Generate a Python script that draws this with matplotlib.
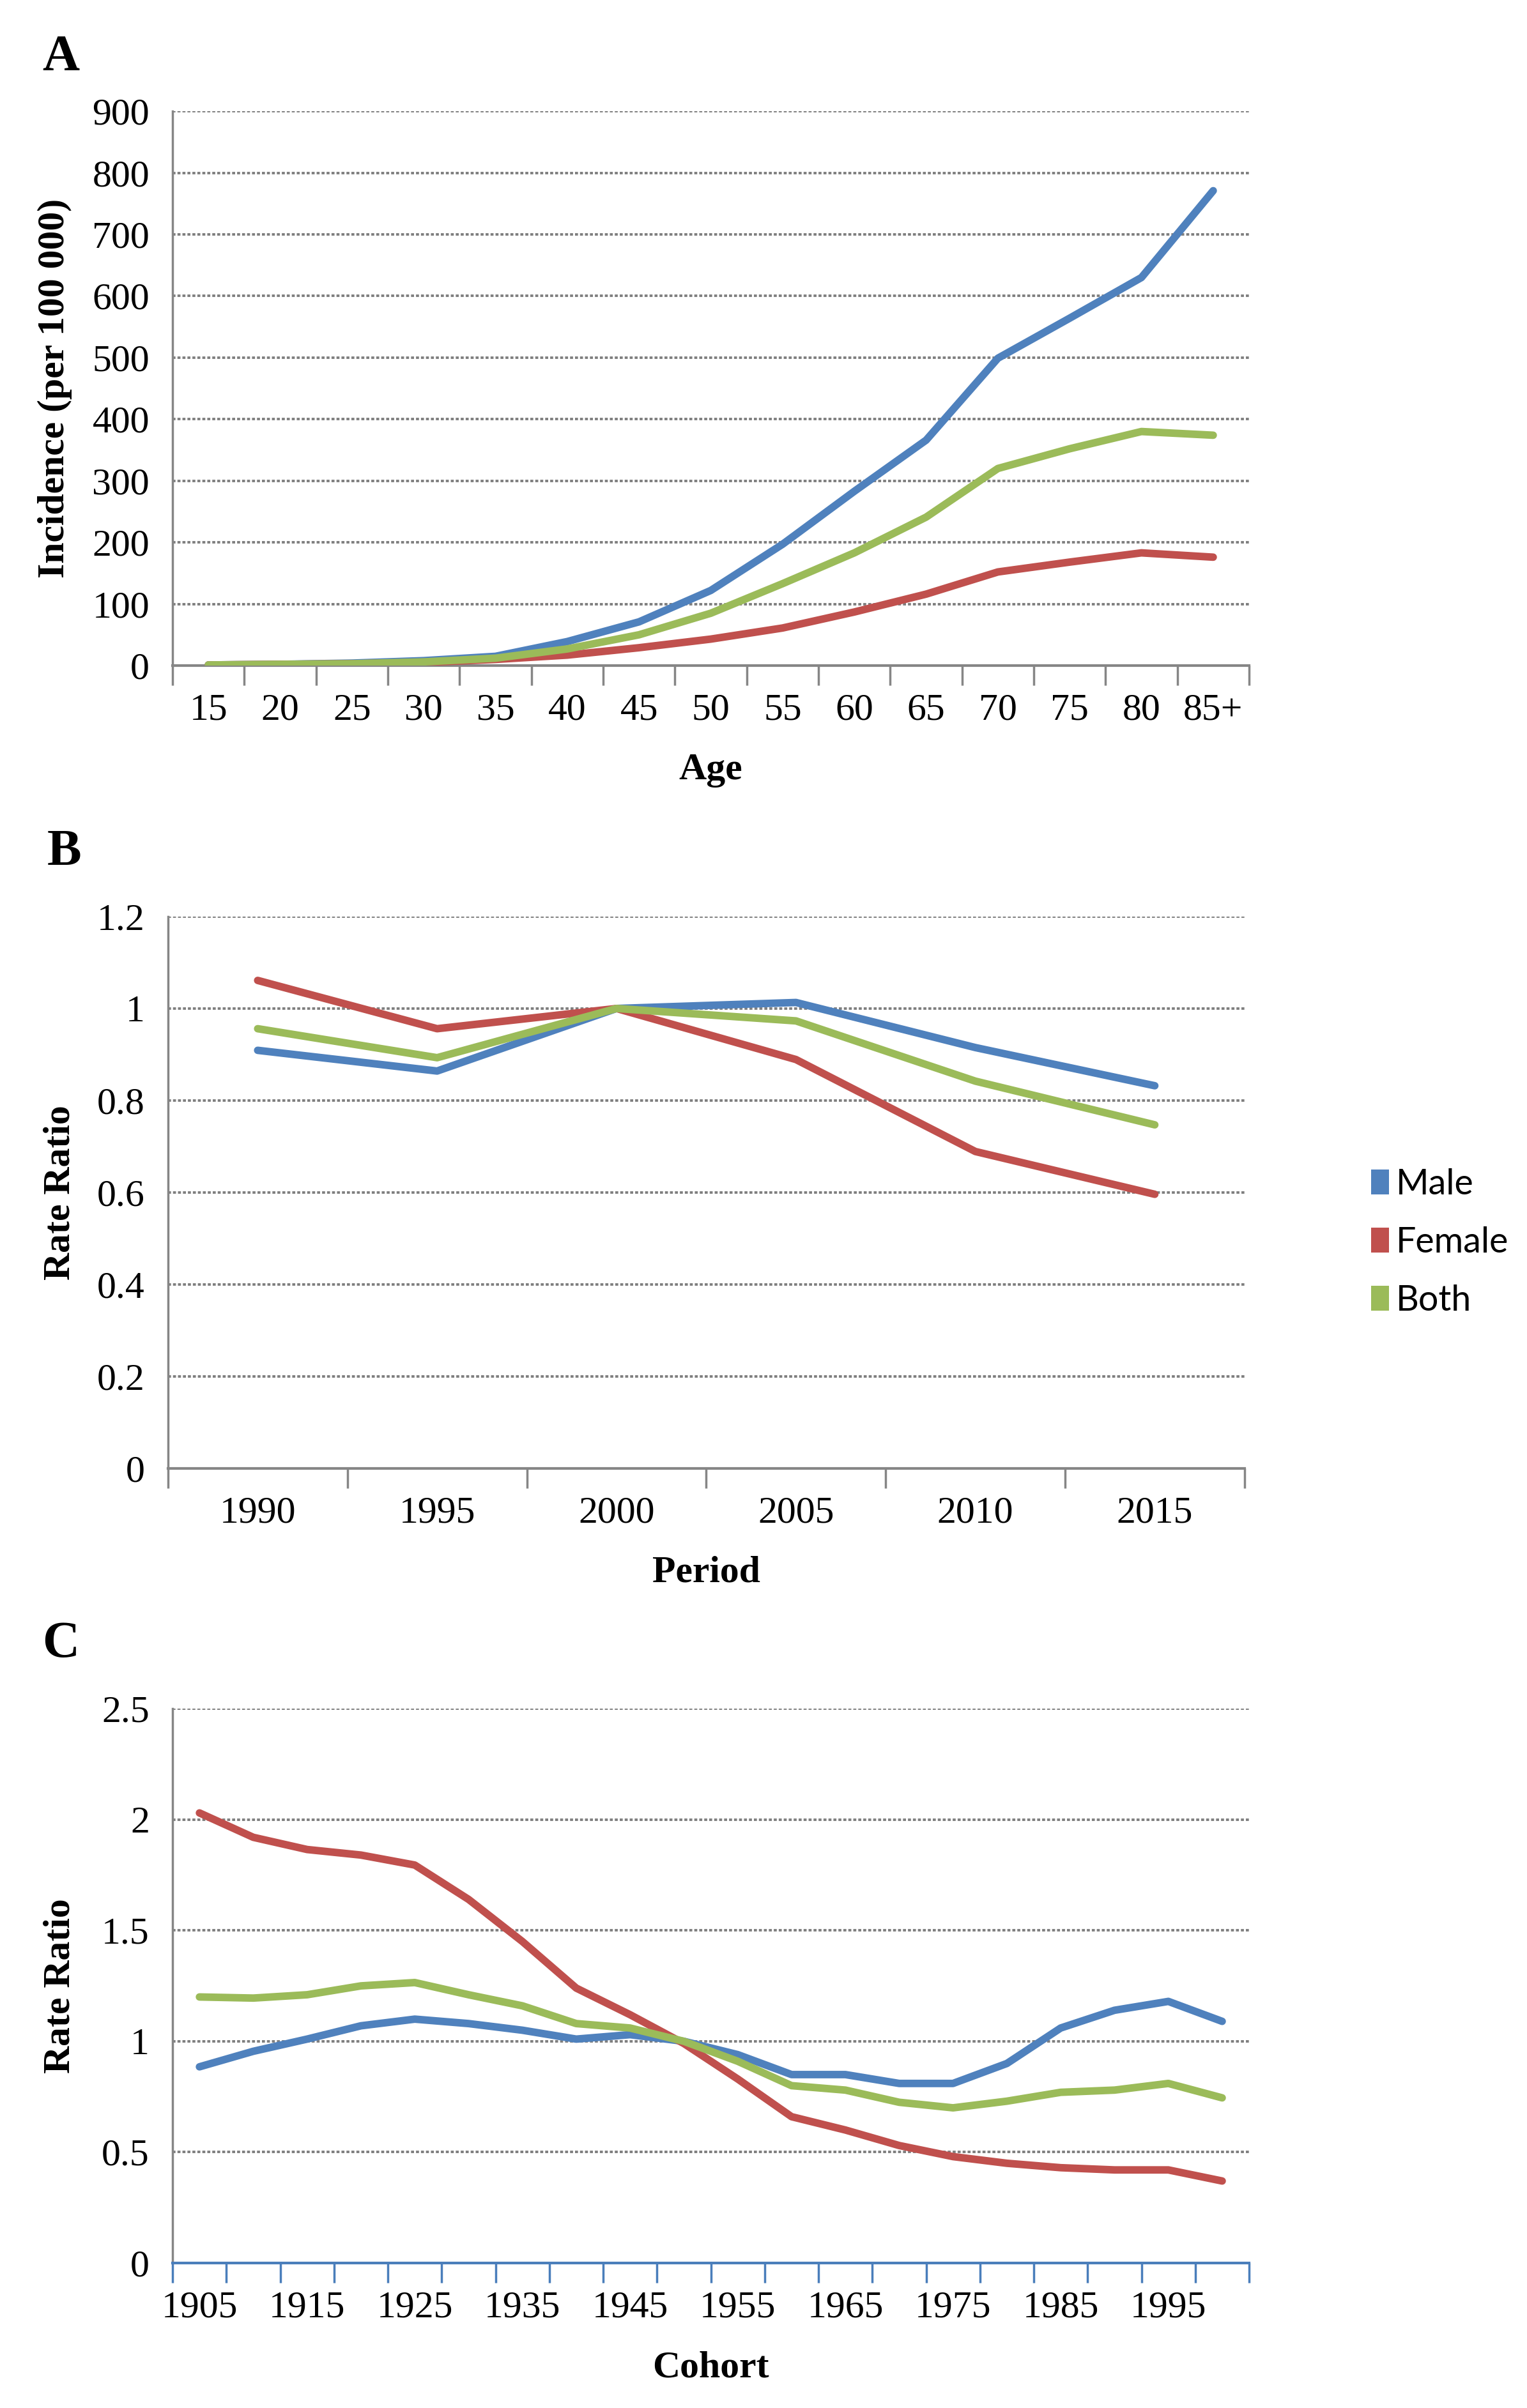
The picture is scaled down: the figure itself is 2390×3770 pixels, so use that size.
import matplotlib.pyplot as plt
from matplotlib.patches import Patch
import numpy as np

# Panel A: incidence by age group (per 100 000)
age_groups = ["15", "20", "25", "30", "35", "40", "45", "50",
              "55", "60", "65", "70", "75", "80", "85+"]
age_male = [1, 2, 4, 8, 15, 39, 71, 122, 197, 283, 366, 499, 564, 630, 771]
age_female = [1, 2, 3, 5, 10, 17, 29, 43, 61, 87, 116, 152, 168, 183, 176]
age_both = [1, 2, 3, 6, 12, 27, 50, 85, 133, 183, 241, 320, 352, 380, 374]

# Panel B: period rate ratios
periods = ["1990", "1995", "2000", "2005", "2010", "2015"]
period_male = [0.909, 0.864, 1.0, 1.013, 0.915, 0.832]
period_female = [1.061, 0.956, 1.0, 0.889, 0.689, 0.596]
period_both = [0.956, 0.893, 1.0, 0.973, 0.842, 0.747]

# Panel C: cohort rate ratios
cohorts = ["1905", "1910", "1915", "1920", "1925", "1930", "1935", "1940",
           "1945", "1950", "1955", "1960", "1965", "1970", "1975", "1980",
           "1985", "1990", "1995", "2000"]
cohort_male = [0.885, 0.955, 1.01, 1.07, 1.10, 1.08, 1.05, 1.01, 1.03, 1.0,
               0.94, 0.85, 0.85, 0.81, 0.81, 0.90, 1.06, 1.14, 1.18, 1.09]
cohort_female = [2.03, 1.92, 1.865, 1.84, 1.795, 1.64, 1.45, 1.24, 1.12, 0.99,
                 0.83, 0.66, 0.60, 0.53, 0.48, 0.45, 0.43, 0.42, 0.42, 0.37]
cohort_both = [1.20, 1.195, 1.21, 1.25, 1.265, 1.21, 1.16, 1.08, 1.06, 1.0,
               0.91, 0.80, 0.78, 0.725, 0.70, 0.73, 0.77, 0.78, 0.81, 0.745]

series_names = ["Male", "Female", "Both"]
series_colors = ["#4F81BD", "#C0504D", "#9BBB59"]

SERIF = "Liberation Serif"
GRAY = "#868686"
plt.rcParams["font.family"] = SERIF


def draw_panel(ax, cats, series, ylim, yticks, yticklabels, xlabel,
               label_every=1, bottom_color=GRAY):
    n = len(cats)
    x = np.arange(n)
    for vals, col in zip(series, series_colors):
        ax.plot(x, vals, color=col, lw=8.5, solid_joinstyle="round",
                solid_capstyle="round", zorder=3)

    ax.set_xlim(-0.5, n - 0.5)
    ax.set_ylim(*ylim)

    # category labels at centers, tick marks at boundaries
    ax.set_xticks(x[::label_every])
    ax.set_xticklabels(cats[::label_every], fontfamily=SERIF, fontsize=43)
    ax.set_xticks(np.arange(n + 1) - 0.5, minor=True)
    ax.tick_params(axis="x", which="major", length=0, pad=31)
    ax.tick_params(axis="x", which="minor", length=22, width=2.5,
                   direction="out", color=bottom_color)

    ax.set_yticks(yticks)
    ax.set_yticklabels(yticklabels, fontfamily=SERIF, fontsize=43)
    ax.tick_params(axis="y", length=0, pad=26)

    for v in yticks[1:]:
        ax.axhline(v, color="#7f7f7f", lw=2.8, ls=(0, (1.2, 0.8)),
                   dash_capstyle="butt", zorder=1)

    ax.spines["top"].set_visible(False)
    ax.spines["right"].set_visible(False)
    ax.spines["left"].set_color(GRAY)
    ax.spines["left"].set_linewidth(2.5)
    ax.spines["bottom"].set_color(bottom_color)
    ax.spines["bottom"].set_linewidth(3)

    ax.set_xlabel(xlabel, fontfamily=SERIF, fontsize=43, fontweight="bold")
    ax.xaxis.set_label_coords(0.5, -0.158)


fig = plt.figure(figsize=(23.9, 37.7), dpi=100)

axA = fig.add_axes([0.113, 0.7236, 0.705, 0.2302])
draw_panel(axA, age_groups, [age_male, age_female, age_both],
           (0, 900), list(range(0, 1000, 100)),
           [str(v) for v in range(0, 1000, 100)], "Age")
axA.set_ylabel("Incidence (per 100 000)", fontfamily=SERIF, fontsize=43,
               fontweight="bold")
axA.yaxis.set_label_coords(-0.093, 0.5)

axB = fig.add_axes([0.110, 0.3902, 0.705, 0.2292])
draw_panel(axB, periods, [period_male, period_female, period_both],
           (0, 1.2), [0, 0.2, 0.4, 0.6, 0.8, 1.0, 1.2],
           ["0", "0.2", "0.4", "0.6", "0.8", "1", "1.2"], "Period")
axB.set_ylabel("Rate Ratio", fontfamily=SERIF, fontsize=43, fontweight="bold")
axB.yaxis.set_label_coords(-0.084, 0.5)

axC = fig.add_axes([0.113, 0.0602, 0.705, 0.2302])
draw_panel(axC, cohorts, [cohort_male, cohort_female, cohort_both],
           (0, 2.5), [0, 0.5, 1.0, 1.5, 2.0, 2.5],
           ["0", "0.5", "1", "1.5", "2", "2.5"], "Cohort",
           label_every=2, bottom_color="#4A7EBB")
axC.set_ylabel("Rate Ratio", fontfamily=SERIF, fontsize=43, fontweight="bold")
axC.yaxis.set_label_coords(-0.088, 0.5)

handles = [Patch(facecolor=c, edgecolor="none") for c in series_colors]
fig.legend(handles, series_names, loc="center left",
           bbox_to_anchor=(0.877, 0.484), frameon=False,
           prop={"family": "Lato", "size": 40},
           handlelength=0.5, handleheight=0.7, handletextpad=0.2,
           labelspacing=0.72)

for letter, (lx, ly) in zip("ABC", [(0.040, 0.976), (0.042, 0.646),
                                    (0.040, 0.317)]):
    fig.text(lx, ly, letter, fontfamily=SERIF, fontsize=58,
             fontweight="bold", ha="center", va="center")

fig.savefig("out.png", dpi=100, facecolor="white")
